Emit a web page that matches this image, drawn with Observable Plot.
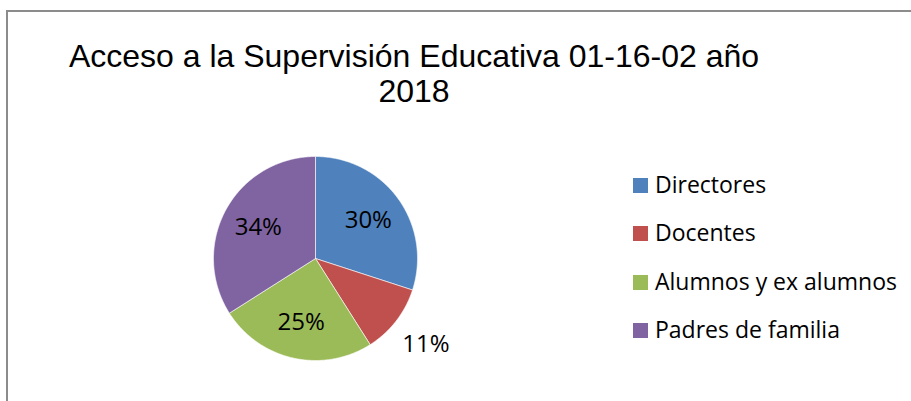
<!DOCTYPE html>
<html>
<head>
<meta charset="utf-8">
<script src="https://cdn.jsdelivr.net/npm/d3@7"></script>
<script src="https://cdn.jsdelivr.net/npm/@observablehq/plot@0.6"></script>
<style>
  html, body { margin: 0; padding: 0; background: #fff; }
  #wrap { position: relative; width: 911px; height: 401px; overflow: hidden; background: #fff; }
  #frame { position: absolute; left: 6px; top: 10px; width: 1000px; height: 500px;
           border-left: 2px solid #8c8c8c; border-top: 2px solid #8c8c8c; }
  #title { position: absolute; left: 0; top: 39px; width: 828px; text-align: center;
           font-family: "Liberation Sans", Arial, sans-serif; font-size: 32px; line-height: 35px; color: #000; }
  #pie { position: absolute; left: 165px; top: 108px; }
  #legend { position: absolute; left: 633px; top: 160px;
            font-family: "Open Sans", sans-serif; font-size: 23px; line-height: 48.3px; color: #000; }
  #legend .row { white-space: nowrap; }
  #legend .sw { display: inline-block; width: 15px; height: 15px; margin-right: 7px; vertical-align: baseline; }
</style>
</head>
<body>
<div id="wrap">
  <div id="frame"></div>
  <div id="title"></div>
  <div id="pie"></div>
  <div id="legend"></div>
</div>
<script>
const titleLines = ["Acceso a la Supervisión Educativa 01-16-02 año", "2018"];
const categories = ["Directores", "Docentes", "Alumnos y ex alumnos", "Padres de familia"];
const values = [30, 11, 25, 34];
const colors = ["#4F81BD", "#C0504D", "#9BBB59", "#8064A2"];

// Title
document.getElementById("title").innerHTML = titleLines.join("<br>");

// Legend
const legend = document.getElementById("legend");
categories.forEach((c, i) => {
  const row = document.createElement("div");
  row.className = "row";
  const sw = document.createElement("span");
  sw.className = "sw";
  sw.style.background = colors[i];
  row.appendChild(sw);
  row.appendChild(document.createTextNode(c));
  legend.appendChild(row);
});

// Pie geometry from data
const R = 102;
const total = d3.sum(values);
const arcs = d3.pie().sort(null).value(d => d)(values);
const polys = [];
const labels = [];
arcs.forEach((a, i) => {
  const cat = categories[i];
  polys.push({cat, x: 0, y: 0, k: -1});
  const n = Math.max(2, Math.ceil((a.endAngle - a.startAngle) / (Math.PI / 360)));
  for (let j = 0; j <= n; j++) {
    const t = a.startAngle + (a.endAngle - a.startAngle) * j / n;
    polys.push({cat, x: R * Math.sin(t), y: -R * Math.cos(t), k: j});
  }
  polys.push({cat, x: 0, y: 0, k: n + 1});
  const mid = (a.startAngle + a.endAngle) / 2;
  const share = values[i] / total;
  const f = share < 0.15 ? 1.37 : 0.64;
  labels.push({cat, x: f * R * Math.sin(mid), y: -f * R * Math.cos(mid), text: Math.round(share * 100) + "%"});
});

const S = 150;
const chart = Plot.plot({
  width: 2 * S,
  height: 2 * S,
  margin: 0,
  x: {domain: [-S, S], range: [0, 2 * S], axis: null},
  y: {domain: [-S, S], range: [0, 2 * S], axis: null},
  color: {domain: categories, range: colors},
  style: {background: "transparent", overflow: "visible"},
  marks: [
    Plot.line(polys, {x: "x", y: "y", z: "cat", fill: "cat", stroke: "white", strokeWidth: 0.6, curve: "linear-closed"}),
    Plot.text(labels, {x: "x", y: "y", text: "text", fill: "black", fontSize: 24,
      fontFamily: "Open Sans, sans-serif", textAnchor: "middle", lineAnchor: "middle"})
  ]
});
document.getElementById("pie").appendChild(chart);
</script>
</body>
</html>
